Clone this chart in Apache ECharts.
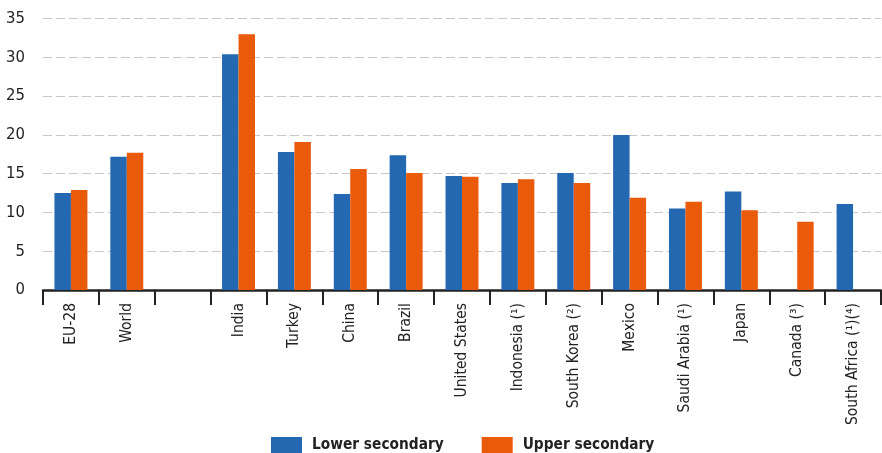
<!DOCTYPE html>
<html>
<head>
<meta charset="utf-8">
<script src="https://cdn.jsdelivr.net/npm/echarts@6/dist/echarts.min.js"></script>
<style>html,body{margin:0;padding:0;background:#fff}#c{width:882px;height:453px}</style>
</head>
<body>
<div id="c"></div>
<script>
const categories = ['EU-28', 'World', '', 'India', 'Turkey', 'China', 'Brazil', 'United States', 'Indonesia (¹)', 'South Korea (²)', 'Mexico', 'Saudi Arabia (¹)', 'Japan', 'Canada (³)', 'South Africa (¹)(⁴)'];
const lowerSecondary = [12.5, 17.2, null, 30.4, 17.8, 12.4, 17.4, 14.7, 13.8, 15.1, 20.0, 10.5, 12.7, null, 11.1];
const upperSecondary = [12.9, 17.7, null, 33.0, 19.1, 15.6, 15.1, 14.6, 14.3, 13.8, 11.9, 11.4, 10.3, 8.8, null];
const yTicks = [0, 5, 10, 15, 20, 25, 30, 35];

const font = '"Liberation Sans Narrow", "DejaVu Sans Condensed", "Noto Sans", sans-serif';
const chart = echarts.init(document.getElementById('c'), null, {renderer: 'canvas'});
chart.setOption({
  animation: false,
  grid: {left: 43, right: 1, top: 18.7, bottom: 163, containLabel: false},
  legend: {
    top: 437, left: 271, padding: 0,
    itemWidth: 31, itemHeight: 17, itemGap: 38,
    icon: 'rect',
    textStyle: {fontFamily: font, fontSize: 15.3, fontWeight: 'bold', color: '#222', padding: [0, 0, 0, 5]},
    data: ['Lower secondary', 'Upper secondary']
  },
  xAxis: {
    type: 'category',
    data: categories,
    axisLine: {lineStyle: {color: '#222', width: 2.5}},
    axisTick: {show: true, length: 15, lineStyle: {color: '#222', width: 2}},
    axisLabel: {rotate: 90, interval: 0, margin: 13, fontFamily: font, fontSize: 15.5, color: '#222'},
    splitLine: {show: false}
  },
  yAxis: {
    type: 'value',
    min: yTicks[0], max: yTicks[yTicks.length - 1], interval: 5,
    axisLine: {show: false},
    axisTick: {show: false},
    axisLabel: {fontFamily: font, fontSize: 16.5, color: '#222', margin: 18},
    splitLine: {lineStyle: {color: '#c8c8c8', type: [9, 4], width: 1}}
  },
  series: [
    {name: 'Lower secondary', type: 'bar', data: lowerSecondary, itemStyle: {color: '#2468b1'}, barGap: 0, barCategoryGap: '41%'},
    {name: 'Upper secondary', type: 'bar', data: upperSecondary, itemStyle: {color: '#e95a0b'}, barGap: 0, barCategoryGap: '41%'}
  ]
});
</script>
</body>
</html>
